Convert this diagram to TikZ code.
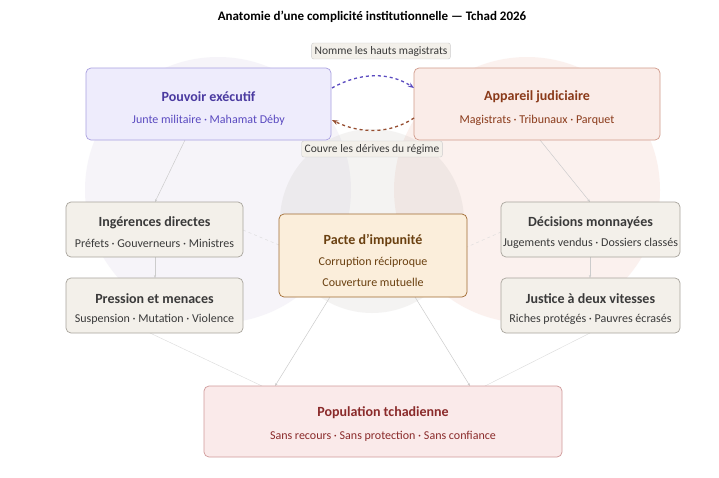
\documentclass[tikz,border=0pt]{standalone}
\usepackage{fontspec}
\setmainfont{Carlito}
\usetikzlibrary{arrows.meta}
\definecolor{exb}{HTML}{EEECFC}\definecolor{exd}{HTML}{A9A0E0}\definecolor{ext}{HTML}{4A3AA0}\definecolor{exs}{HTML}{5A4AC0}
\definecolor{jub}{HTML}{FAECE8}\definecolor{jud}{HTML}{D09A8A}\definecolor{jut}{HTML}{8A3A1A}
\definecolor{grb}{HTML}{F3F0EA}\definecolor{grd}{HTML}{A8A49C}\definecolor{grt}{HTML}{3A3A3A}
\definecolor{pab}{HTML}{FBEEDB}\definecolor{pad}{HTML}{A06A30}\definecolor{pat}{HTML}{6A4010}
\definecolor{pob}{HTML}{FAEAEA}\definecolor{pod}{HTML}{D09A9A}\definecolor{pot}{HTML}{8A2A2A}
\definecolor{ln}{HTML}{CCCCCC}
\begin{document}
\begin{tikzpicture}[x=1pt,y=-1pt,
 box/.style={rounded corners=5pt,line width=0.7pt},
 ttl/.style={font=\fontsize{14}{16}\selectfont\bfseries},
 sub/.style={font=\fontsize{12}{14}\selectfont},
 lab/.style={draw=ln,fill=grb,rounded corners=2pt,font=\fontsize{11.5}{13}\selectfont,inner sep=3pt,text=grt},
 con/.style={draw=ln,line width=0.5pt,-{Stealth[length=3pt]}},
 fcon/.style={draw=ln!70,line width=0.4pt}]
\useasboundingbox (0,0) rectangle (719,477);
\fill[white] (0,0) rectangle (719,477);
\fill[exb!60!grb,opacity=0.6] (218,190) circle (133);
\fill[jub,opacity=0.7] (527,190) circle (133);
\fill[grd,opacity=0.12] (372,221) circle (92);
\node[font=\fontsize{13}{15}\selectfont\bfseries] (title) at (372,17) {Anatomie d'une complicité institutionnelle — Tchad 2026};
% connectors
\draw[con] (185,140) -- (155,202);
\draw[con] (155,257) -- (155,278);
\draw[con] (540,140) -- (590,202);
\draw[con] (590,257) -- (590,278);
\draw[con] (330,297) -- (275,386);
\draw[con] (415,297) -- (470,386);
\draw[fcon] (150,333) -- (262,386);
\draw[fcon] (590,333) -- (485,386);
\draw[fcon,dashed] (243,230) -- (279,245);
\draw[fcon,dashed] (501,232) -- (467,247);
% nodes
\draw[box,draw=exd,fill=exb] (86,68) rectangle (331,140);
\node[ttl,text=ext] (pe) at (208.5,97) {Pouvoir exécutif};
\node[sub,text=exs] (pes) at (208.5,120) {Junte militaire · Mahamat Déby};
\draw[box,draw=jud,fill=jub] (414,68) rectangle (660,140);
\node[ttl,text=jut] (aj) at (537,97) {Appareil judiciaire};
\node[sub,text=jut] (ajs) at (537,120) {Magistrats · Tribunaux · Parquet};
\foreach \n/\y/\t/\s in {a/202/Ingérences directes/Préfets · Gouverneurs · Ministres, b/278/Pression et menaces/Suspension · Mutation · Violence}{
 \draw[box,draw=grd,fill=grb] (66,\y) rectangle (243,\y+55);
 \node[ttl,text=grt] (\n t) at (154.5,\y+21) {\t};
 \node[sub,text=grt] (\n s) at (154.5,\y+41) {\s};}
\foreach \n/\y/\t/\s in {c/202/Décisions monnayées/Jugements vendus · Dossiers classés, d/278/Justice à deux vitesses/Riches protégés · Pauvres écrasés}{
 \draw[box,draw=grd,fill=grb] (501,\y) rectangle (680,\y+55);
 \node[ttl,text=grt] (\n t) at (590.5,\y+21) {\t};
 \node[sub,text=grt] (\n s) at (590.5,\y+41) {\s};}
\draw[box,draw=pad,fill=pab] (279,214) rectangle (467,297);
\node[ttl,text=pat] (pa) at (373,241) {Pacte d'impunité};
\node[sub,text=pat] (pa1) at (373,262) {Corruption réciproque};
\node[sub,text=pat] (pa2) at (373,282) {Couverture mutuelle};
\draw[box,draw=pod,fill=pob] (204,386) rectangle (562,457);
\node[ttl,text=pot] (po) at (383,413) {Population tchadienne};
\node[sub,text=pot] (pos) at (383,436) {Sans recours · Sans protection · Sans confiance};
% arcs
\draw[exs,line width=1.3pt,dashed,-{Stealth[length=6pt]}] (332,88) .. controls (360,72) and (390,72) .. (414,88);
\draw[jut!90,line width=1.3pt,dashed,-{Stealth[length=6pt]}] (414,118) .. controls (390,134) and (360,134) .. (332,120);
\node[lab] (l1) at (381,51) {Nomme les hauts magistrats};
\node[lab] (l2) at (372,149) {Couvre les dérives du régime};
\end{tikzpicture}
\end{document}
